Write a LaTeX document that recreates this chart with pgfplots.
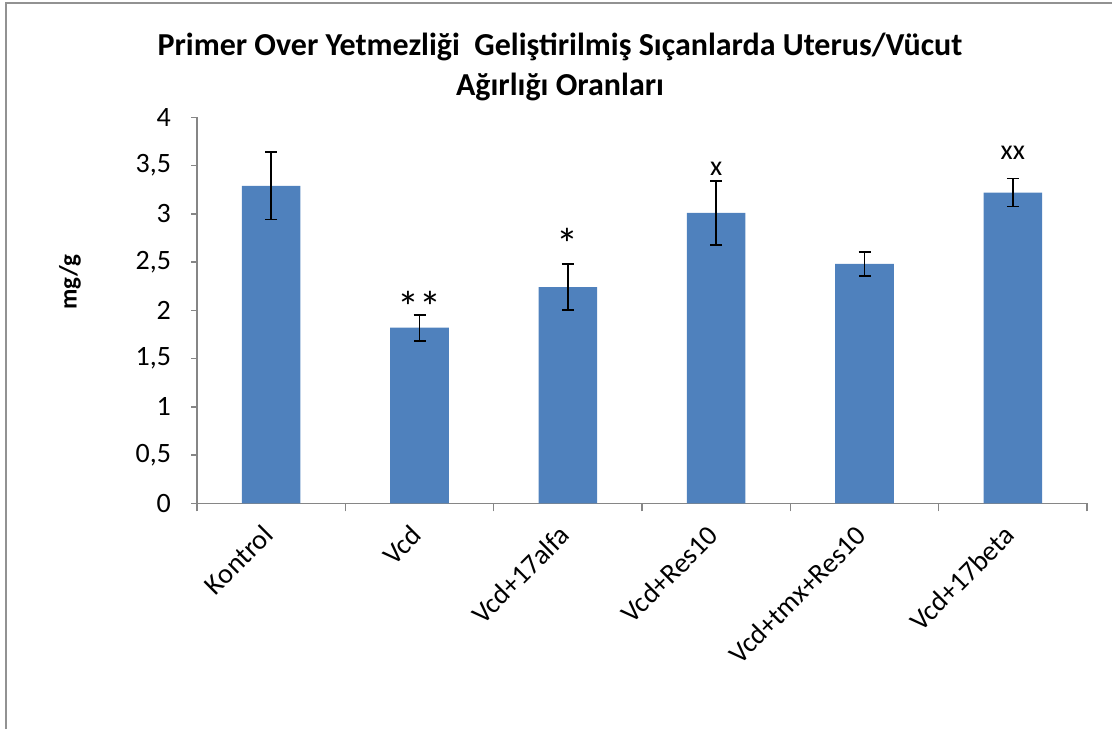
\documentclass[border=0pt]{standalone}
\usepackage{fontspec}
\setmainfont{Carlito}
\usepackage{pgfplots}
\usepackage{pgfplotstable}
\pgfplotsset{compat=1.18}
\definecolor{barblue}{HTML}{4F81BD}
\definecolor{axgray}{HTML}{868686}
\pgfplotstableread{
x y e
0 3.29 0.35
1 1.82 0.135
2 2.24 0.24
3 3.01 0.33
4 2.48 0.122
5 3.22 0.145
}\datatable
\begin{document}
\begin{tikzpicture}
\path[use as bounding box] (0,0) rectangle (556pt,-364.5pt);
\draw[color=axgray!90, line width=1pt] (3pt,-364.5pt) -- (3pt,-1.5pt) -- (556pt,-1.5pt);
\node[font=\fontsize{16}{20}\selectfont\bfseries, align=center] at (280pt,-33.5pt) {Primer Over Yetmezliği\ \ Geliştirilmiş Sıçanlarda Uterus/Vücut\\Ağırlığı Oranları};
\node[font=\fontsize{12.5}{14}\selectfont\bfseries, rotate=90] at (35pt,-141pt) {mg/g};
\begin{axis}[
  at={(98.5pt,-251.65pt)}, anchor=south west,
  scale only axis, width=445pt, height=193pt,
  xmin=-0.5, xmax=5.5, ymin=0, ymax=4,
  axis x line*=bottom, axis y line*=left,
  axis line style={axgray, line width=0.75pt},
  tick align=outside,
  xtick={0,...,5},
  xticklabels={Kontrol,Vcd,Vcd+17alfa,Vcd+Res10,Vcd+tmx+Res10,Vcd+17beta},
  major x tick style={draw=none},
  minor xtick={-0.5,0.5,...,5.5},
  minor x tick style={axgray, line width=0.75pt},
  minor tick length=4pt,
  ytick={0,0.5,...,4},
  y tick style={axgray, line width=0.75pt},
  major tick length=3pt,
  /pgf/number format/use comma,
  /pgf/number format/assume math mode=true,
  yticklabel style={font=\fontsize{14}{16}\selectfont, xshift=-6.5pt},
  xticklabel style={font=\fontsize{14}{16}\selectfont, xshift=-1.5pt, yshift=-10.5pt, rotate=45, anchor=east, inner sep=0pt},
  clip=false,
]
\addplot[ybar, bar width=29.3pt, fill=barblue, draw=none,
  error bars/.cd, y dir=both, y explicit,
  error bar style={black, line width=0.85pt},
  error mark options={black, line width=0.85pt, mark size=3pt, rotate=90}]
  table[x=x, y=y, y error=e] {\datatable};
\node[font=\fontsize{22}{24}\selectfont, anchor=base] at (axis cs:1,1.874) {**};
\node[font=\fontsize{22}{24}\selectfont, anchor=base] at (axis cs:2,2.523) {*};
\node[font=\fontsize{14}{16}\selectfont, anchor=base] at (axis cs:3,3.40) {x};
\node[font=\fontsize{14}{16}\selectfont, anchor=base] at (axis cs:5,3.56) {xx};
\end{axis}
\end{tikzpicture}
\end{document}
